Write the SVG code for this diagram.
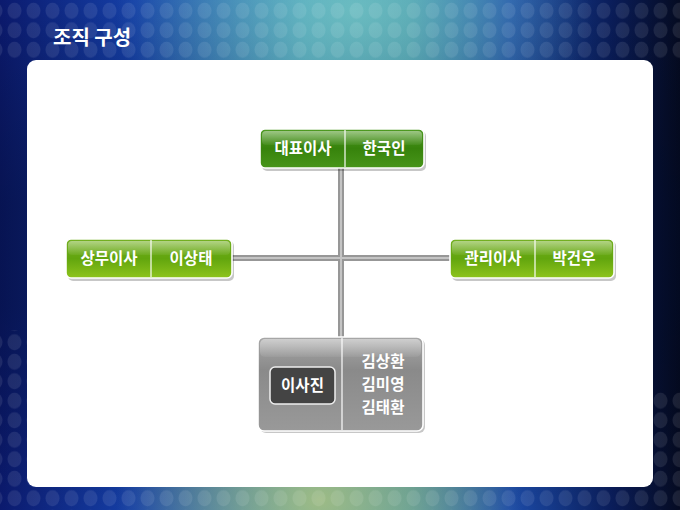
<svg xmlns="http://www.w3.org/2000/svg" width="680" height="510" viewBox="0 0 680 510">
<defs>
<style>
.t{font-family:"Noto Sans CJK KR","Noto Sans",sans-serif;font-weight:bold;fill:#fff;text-anchor:middle}
.nt{font-size:15.5px}
.sh{fill:#000;opacity:0.22}
.bd{stroke:#fff;stroke-width:1.6}
.dv{stroke:#fff;stroke-width:1.3;opacity:0.9}
.cn{stroke:#979797;stroke-width:6;fill:none}
.cnh{stroke:#c4c4c4;stroke-width:2;fill:none}
</style>
<linearGradient id="bgH" x1="0" y1="0" x2="1" y2="0">
<stop offset="0" stop-color="#0b1a6e"/>
<stop offset="0.2" stop-color="#1540a8"/>
<stop offset="0.45" stop-color="#3f93b9"/>
<stop offset="0.6" stop-color="#3a8aa8"/>
<stop offset="0.75" stop-color="#1c4ba8"/>
<stop offset="0.9" stop-color="#0a1d5a"/>
<stop offset="1" stop-color="#050b22"/>
</linearGradient>
<radialGradient id="glowT" cx="0.52" cy="0.02" r="0.35">
<stop offset="0" stop-color="#7fd0c8" stop-opacity="0.7"/>
<stop offset="1" stop-color="#7fd0c8" stop-opacity="0"/>
</radialGradient>
<radialGradient id="glowB" cx="0.47" cy="0.98" r="0.3">
<stop offset="0" stop-color="#a8c080" stop-opacity="0.9"/>
<stop offset="1" stop-color="#a8c080" stop-opacity="0"/>
</radialGradient>
<linearGradient id="bgV" x1="0" y1="0" x2="0" y2="1">
<stop offset="0" stop-color="#000" stop-opacity="0"/>
<stop offset="0.4" stop-color="#000820" stop-opacity="0.35"/>
<stop offset="0.6" stop-color="#000820" stop-opacity="0.35"/>
<stop offset="1" stop-color="#000" stop-opacity="0"/>
</linearGradient>
<pattern id="dots" x="5" y="1" width="19" height="19.5" patternUnits="userSpaceOnUse">
<ellipse cx="9.5" cy="9.75" rx="7" ry="8" fill="#fff" opacity="0.09"/>
</pattern>
<linearGradient id="gDark" x1="0" y1="0" x2="0" y2="1">
<stop offset="0" stop-color="#4e9a22"/>
<stop offset="0.5" stop-color="#37830c"/>
<stop offset="1" stop-color="#48951a"/>
</linearGradient>
<linearGradient id="gLight" x1="0" y1="0" x2="0" y2="1">
<stop offset="0" stop-color="#74b022"/>
<stop offset="0.5" stop-color="#62a50e"/>
<stop offset="1" stop-color="#8ec41c"/>
</linearGradient>
<linearGradient id="gGray" x1="0" y1="0" x2="0" y2="1">
<stop offset="0" stop-color="#a8a8a8"/>
<stop offset="0.35" stop-color="#8a8a8a"/>
<stop offset="1" stop-color="#999"/>
</linearGradient>
<linearGradient id="gloss" x1="0" y1="0" x2="0" y2="1">
<stop offset="0" stop-color="#fff" stop-opacity="0.45"/>
<stop offset="1" stop-color="#fff" stop-opacity="0.05"/>
</linearGradient>
</defs>

<rect x="0" y="0" width="680" height="510" fill="url(#bgH)"/>
<rect x="0" y="0" width="680" height="510" fill="url(#bgV)"/>
<rect x="0" y="0" width="680" height="510" fill="url(#glowT)"/>
<rect x="0" y="0" width="680" height="510" fill="url(#glowB)"/>
<rect x="0" y="0" width="680" height="60" fill="url(#dots)"/>
<rect x="0" y="470" width="680" height="40" fill="url(#dots)"/>
<rect x="0" y="330" width="27" height="140" fill="url(#dots)"/>
<rect x="653" y="390" width="27" height="80" fill="url(#dots)"/>

<text x="53" y="45" class="t" style="font-size:20px;text-anchor:start">조직 구성</text>

<rect x="27" y="60" width="626" height="427" rx="9" fill="#fff"/>

<g id="connectors">
<line x1="341" y1="168" x2="341" y2="337" class="cn"/>
<line x1="232" y1="258" x2="450" y2="258" class="cn"/>
<line x1="341" y1="168" x2="341" y2="337" class="cnh"/>
<line x1="232" y1="258" x2="450" y2="258" class="cnh"/>
</g>

<g id="n-ceo">
<rect x="262" y="131" width="164" height="40" rx="5" class="sh"/>
<rect x="260" y="129" width="164" height="39" rx="5" fill="url(#gDark)" class="bd"/>
<rect x="262" y="131" width="160" height="14" rx="4" fill="url(#gloss)"/>
<line x1="345" y1="130" x2="345" y2="167" class="dv"/>
<text x="303" y="154" class="t nt">대표이사</text>
<text x="384" y="154" class="t nt">한국인</text>
</g>

<g id="n-left">
<rect x="68" y="241" width="166" height="40" rx="5" class="sh"/>
<rect x="66" y="239" width="166" height="39" rx="5" fill="url(#gLight)" class="bd"/>
<rect x="68" y="241" width="162" height="14" rx="4" fill="url(#gloss)"/>
<line x1="151" y1="240" x2="151" y2="277" class="dv"/>
<text x="109" y="264" class="t nt">상무이사</text>
<text x="191" y="264" class="t nt">이상태</text>
</g>

<g id="n-right">
<rect x="452" y="241" width="164" height="40" rx="5" class="sh"/>
<rect x="450" y="239" width="164" height="39" rx="5" fill="url(#gLight)" class="bd"/>
<rect x="452" y="241" width="160" height="14" rx="4" fill="url(#gloss)"/>
<line x1="535" y1="240" x2="535" y2="277" class="dv"/>
<text x="493" y="264" class="t nt">관리이사</text>
<text x="574" y="264" class="t nt">박건우</text>
</g>

<g id="n-board">
<rect x="260" y="339" width="165" height="94" rx="6" class="sh"/>
<rect x="258" y="337" width="165" height="94" rx="6" fill="url(#gGray)" class="bd"/>
<rect x="260" y="339" width="161" height="18" rx="5" fill="url(#gloss)"/>
<line x1="342" y1="338" x2="342" y2="430" class="dv"/>
<rect x="270" y="367" width="65" height="37" rx="5" fill="#444" stroke="#eee" stroke-width="1.5"/>
<text x="302.5" y="391" class="t nt">이사진</text>
<text x="383" y="367" class="t nt">김상환</text>
<text x="383" y="390" class="t nt">김미영</text>
<text x="383" y="413" class="t nt">김태환</text>
</g>
</svg>
